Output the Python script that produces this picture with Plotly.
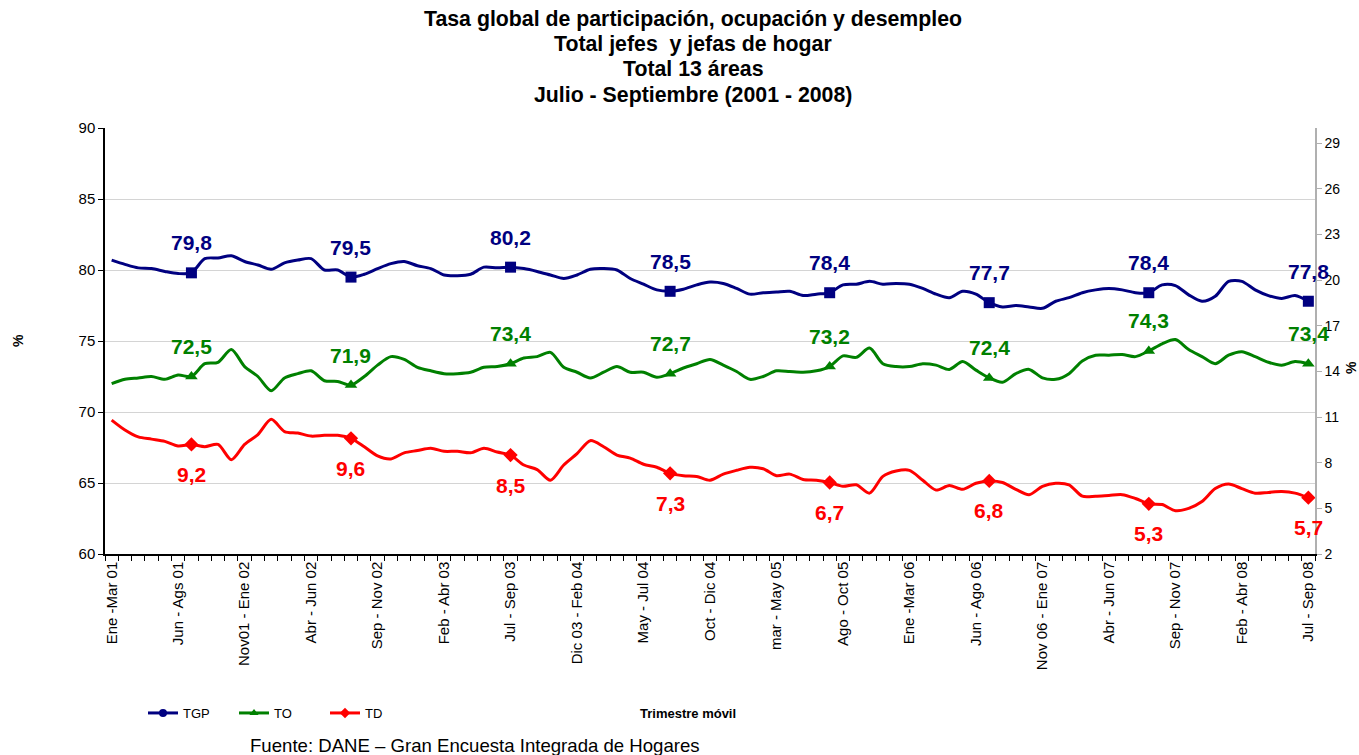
import plotly.graph_objects as go

# ---------------- data ----------------
tick_labels = ["Ene -Mar 01", "Jun - Ags 01", "Nov01 - Ene 02", "Abr - Jun 02", "Sep - Nov 02",
               "Feb - Abr 03", "Jul - Sep 03", "Dic 03 - Feb 04", "May - Jul 04", "Oct - Dic 04",
               "mar - May 05", "Ago - Oct 05", "Ene -Mar 06", "Jun - Ago 06", "Nov 06 - Ene 07",
               "Abr - Jun 07", "Sep - Nov 07", "Feb - Abr 08", "Jul - Sep 08"]
tick_positions = [0, 5, 10, 15, 20, 25, 30, 35, 40, 45, 50, 55, 60, 65, 70, 75, 80, 85, 90]

# rolling quarter index (Ene-Mar 01 ... Jul-Sep 08)
periods = list(range(91))

tgp = [80.7, 80.4, 80.15, 80.1, 79.9, 79.75, 79.8, 80.8, 80.85, 81.0,
       80.6, 80.35, 80.05, 80.5, 80.7, 80.8, 80.0, 80.0, 79.5, 79.7,
       80.1, 80.45, 80.6, 80.3, 80.1, 79.65, 79.6, 79.7, 80.2, 80.15,
       80.2, 80.1, 79.9, 79.65, 79.4, 79.65, 80.05, 80.1, 80.0, 79.4,
       79.0, 78.6, 78.5, 78.65, 78.95, 79.15, 79.05, 78.7, 78.3, 78.4,
       78.45, 78.5, 78.2, 78.3, 78.4, 78.95, 79.0, 79.2, 79.0, 79.05,
       79.0, 78.7, 78.3, 78.05, 78.5, 78.3, 77.7, 77.4, 77.5, 77.4,
       77.3, 77.8, 78.05, 78.4, 78.6, 78.7, 78.6, 78.4, 78.4, 78.95,
       78.9, 78.25, 77.8, 78.15, 79.2, 79.2, 78.6, 78.2, 78.0, 78.2,
       77.8]

to = [72.0, 72.3, 72.4, 72.5, 72.3, 72.6, 72.5, 73.4, 73.5, 74.4,
      73.2, 72.5, 71.5, 72.4, 72.7, 72.9, 72.2, 72.15, 71.9, 72.5,
      73.3, 73.9, 73.7, 73.15, 72.9, 72.7, 72.7, 72.8, 73.15, 73.2,
      73.4, 73.8, 73.9, 74.2, 73.15, 72.8, 72.4, 72.8, 73.2, 72.8,
      72.8, 72.45, 72.7, 73.1, 73.4, 73.7, 73.3, 72.85, 72.3, 72.5,
      72.9, 72.85, 72.8, 72.9, 73.2, 73.95, 73.85, 74.5, 73.4, 73.2,
      73.2, 73.4, 73.3, 73.0, 73.55, 72.95, 72.4, 72.1, 72.7, 73.0,
      72.4, 72.3, 72.7, 73.6, 74.0, 74.0, 74.05, 73.9, 74.3, 74.8,
      75.1, 74.4, 73.9, 73.4, 74.0, 74.25, 73.9, 73.5, 73.3, 73.55,
      73.4]

td = [10.8, 10.15, 9.7, 9.55, 9.4, 9.1, 9.2, 9.05, 9.2, 8.2,
      9.2, 9.85, 10.85, 10.05, 9.95, 9.75, 9.8, 9.8, 9.6, 9.05,
      8.45, 8.25, 8.65, 8.8, 8.95, 8.75, 8.75, 8.65, 8.95, 8.7,
      8.5, 7.85, 7.55, 6.85, 7.85, 8.6, 9.45, 9.05, 8.5, 8.3,
      7.9, 7.7, 7.3, 7.15, 7.1, 6.85, 7.25, 7.5, 7.7, 7.6,
      7.15, 7.25, 6.9, 6.85, 6.7, 6.45, 6.55, 6.0, 7.1, 7.45,
      7.5, 6.85, 6.2, 6.5, 6.25, 6.65, 6.8, 6.7, 6.25, 5.9,
      6.45, 6.65, 6.55, 5.8, 5.8, 5.85, 5.9, 5.65, 5.3, 5.25,
      4.85, 5.0, 5.45, 6.3, 6.6, 6.3, 6.0, 6.05, 6.1, 6.0,
      5.7]

# Jul-Sep quarter of each year (labelled points)
labelled = [6, 18, 30, 42, 54, 66, 78, 90]

NAVY = "#000080"
GREEN = "#008000"
RED = "#FF0000"
FONT = "Arial, Liberation Sans, sans-serif"

# ---------------- layout helpers (pixel -> paper) ----------------
L, R, T, B = 105, 1315, 128, 554


def px(x):
    return (x - L) / (R - L)


def py(y):
    return (B - y) / (B - T)


def fmt(v):
    return f"{v:.1f}".replace(".", ",")


fig = go.Figure()

series = [
    ("TGP", tgp, NAVY, "square", "circle", "y", 30),
    ("TO", to, GREEN, "triangle-up", "triangle-up", "y", 30),
    ("TD", td, RED, "diamond", "diamond", "y2", -30),
]

annotations = []
for name, vals, col, sym, legsym, yax, shift in series:
    fig.add_trace(go.Scatter(
        x=periods, y=vals, mode="lines", yaxis=yax,
        line=dict(color=col, width=3, shape="spline", smoothing=0.8),
        showlegend=False, hoverinfo="x+y", name=name))
    fig.add_trace(go.Scatter(
        x=[periods[i] for i in labelled], y=[vals[i] for i in labelled],
        mode="markers", yaxis=yax,
        marker=dict(symbol=sym, size=11, color=col),
        showlegend=False, name=name))
    # legend-only entry
    fig.add_trace(go.Scatter(
        x=[None], y=[None], mode="lines+markers", name=name, yaxis=yax,
        line=dict(color=col, width=3),
        marker=dict(symbol=legsym, size=8, color=col)))
    for i in labelled:
        annotations.append(dict(
            x=periods[i], y=vals[i], xref="x", yref=yax, text=f"<b>{fmt(vals[i])}</b>",
            showarrow=False, yshift=shift, font=dict(family=FONT, size=21, color=col)))

title_lines = ["Tasa global de participación, ocupación y desempleo",
               "Total jefes\u00a0 y jefas de hogar",
               "Total 13 áreas",
               "Julio - Septiembre (2001 - 2008)"]
title_y = [19, 44, 69, 95]
for t, yy in zip(title_lines, title_y):
    annotations.append(dict(x=px(693), y=py(yy), xref="paper", yref="paper",
                            text=f"<b>{t}</b>", showarrow=False,
                            xanchor="center", yanchor="middle",
                            font=dict(family=FONT, size=21.3, color="black")))

annotations += [
    dict(x=px(688), y=py(713), xref="paper", yref="paper", text="<b>Trimestre móvil</b>",
         showarrow=False, xanchor="center", yanchor="middle",
         font=dict(family=FONT, size=13, color="black")),
    dict(x=px(248), y=py(745), xref="paper", yref="paper",
         text="Fuente: DANE – Gran Encuesta Integrada de Hogares",
         showarrow=False, xanchor="left", yanchor="middle",
         font=dict(family=FONT, size=18.6, color="black")),
    dict(x=px(18), y=py(341), xref="paper", yref="paper", text="<b>%</b>",
         showarrow=False, textangle=-90, xanchor="center", yanchor="middle",
         font=dict(family=FONT, size=14, color="black")),
    dict(x=px(1351), y=py(368), xref="paper", yref="paper", text="<b>%</b>",
         showarrow=False, textangle=-90, xanchor="center", yanchor="middle",
         font=dict(family=FONT, size=14, color="black")),
]

fig.update_layout(
    width=1359, height=755,
    margin=dict(l=L, r=1359 - R, t=T, b=755 - B, pad=0),
    paper_bgcolor="white", plot_bgcolor="white",
    font=dict(family=FONT, color="black"),
    showlegend=True,
    legend=dict(orientation="h", x=px(143), y=py(713), xanchor="left", yanchor="middle",
                font=dict(family=FONT, size=13, color="black"),
                bgcolor="rgba(0,0,0,0)", itemwidth=30, tracegroupgap=0,
                entrywidth=46, entrywidthmode="pixels"),
    xaxis=dict(
        range=[-0.5, 90.5], tickmode="array", tickvals=tick_positions, ticktext=tick_labels,
        tickangle=-90, ticks="", showgrid=False, zeroline=False,
        showline=True, linecolor="black", linewidth=1.5,
        tickfont=dict(family=FONT, size=15, color="black"),
        minor=dict(tickmode="linear", tick0=0.5, dtick=1, ticks="outside", ticklen=5,
                   tickcolor="black", tickwidth=1, showgrid=False),
    ),
    yaxis=dict(
        range=[60, 90], dtick=5, tick0=60, showgrid=True, gridcolor="#d4d4d4", gridwidth=1,
        zeroline=False, showline=True, linecolor="black", linewidth=1.5,
        ticks="outside", ticklen=5, tickcolor="black",
        tickfont=dict(family=FONT, size=15, color="black"),
    ),
    yaxis2=dict(
        range=[2, 30], tickmode="array", tickvals=[2, 5, 8, 11, 14, 17, 20, 23, 26, 29],
        overlaying="y", side="right", showgrid=False, zeroline=False,
        showline=True, linecolor="#b0b0b0", linewidth=1.5,
        ticks="outside", ticklen=5, tickcolor="#b0b0b0",
        tickfont=dict(family=FONT, size=14, color="black"),
    ),
    annotations=annotations,
)

fig.write_html("out.html", config={"displayModeBar": False},
               post_script="document.body.style.margin='0';")
